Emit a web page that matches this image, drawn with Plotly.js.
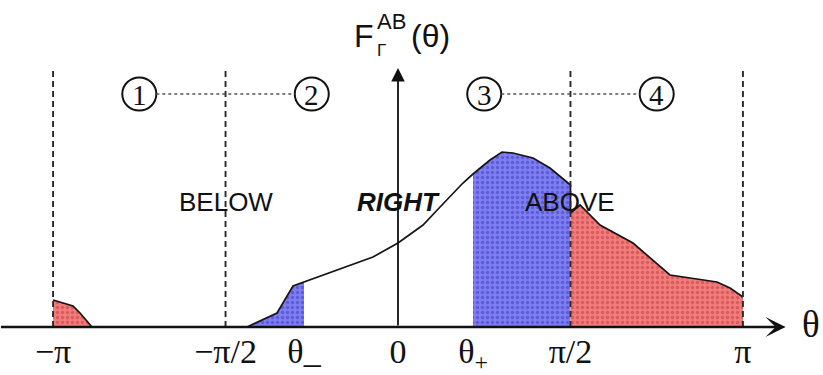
<!DOCTYPE html>
<html>
<head>
<meta charset="utf-8">
<script src="https://cdn.plot.ly/plotly-3.0.1.min.js"></script>
<style>
html,body{margin:0;padding:0;background:#fff;}
#chart{width:823px;height:375px;}
</style>
</head>
<body>
<div id="chart"></div>
<script>
// ---- data (F in arbitrary units) ----
const PI = Math.PI;
const thetaMinus = -0.856;
const thetaPlus = 0.683;

const redLeftTheta = [-3.1416, -3.078, -2.960, -2.896, -2.787];
const redLeftF     = [0.27, 0.25, 0.21, 0.14, 0.0];

const flatTheta = [-2.787, -1.375];
const flatF     = [0.0, 0.0];

const blueLeftTheta = [-1.375, -1.239, -1.102, -0.956, -0.856];
const blueLeftF     = [0.0, 0.07, 0.14, 0.41, 0.45];

const midTheta = [-0.856, -0.228, 0.0, 0.228, 0.383, 0.592, 0.683];
const midF     = [0.45, 0.70, 0.84, 1.02, 1.20, 1.44, 1.53];

const blueRightTheta = [0.683, 0.838, 0.947, 1.047, 1.230, 1.384, 1.5708];
const blueRightF     = [1.53, 1.67, 1.75, 1.74, 1.69, 1.59, 1.42];

const redRightTheta = [1.5708, 1.658, 1.840, 2.140, 2.477, 2.905, 3.024, 3.1416];
const redRightF     = [1.14, 1.22, 1.02, 0.84, 0.52, 0.45, 0.39, 0.30];

const tickVals = [-PI, -PI/2, thetaMinus, 0, thetaPlus, PI/2, PI];
const tickText = ['\u2212\u03c0', '\u2212\u03c0/2', '\u03b8_', '0', '\u03b8<sub>+</sub>', '\u03c0/2', '\u03c0'];

const regionNumbers = ['1', '2', '3', '4'];
const regionCenters = [-3*PI/4, -PI/4, PI/4, 3*PI/4];
const zoneLabels = ['BELOW', 'RIGHT', 'ABOVE'];
const zoneCenters = [-PI/2, 0, PI/2];
const boundaryLines = [-PI, -PI/2, PI/2, PI];

// ---- traces ----
const BLUE = '#7e7ef2', BLUE_DOT = '#5c5cd6';
const RED = '#f27c7c', RED_DOT = '#d85c5c';

function fillTrace(x, y, bg, fg) {
  return {
    x: x, y: y, type: 'scatter', mode: 'lines',
    line: {width: 0, color: bg},
    fill: 'tozeroy', fillcolor: bg,
    fillpattern: {shape: '.', bgcolor: bg, fgcolor: fg, size: 5, solidity: 0.35},
    hoverinfo: 'skip', showlegend: false
  };
}

const curveTheta = [].concat(redLeftTheta, flatTheta.slice(1), blueLeftTheta.slice(1), midTheta.slice(1), blueRightTheta.slice(1), redRightTheta);
const curveF     = [].concat(redLeftF, flatF.slice(1), blueLeftF.slice(1), midF.slice(1), blueRightF.slice(1), redRightF);

const traces = [
  fillTrace(redLeftTheta, redLeftF, RED, RED_DOT),
  fillTrace(blueLeftTheta, blueLeftF, BLUE, BLUE_DOT),
  fillTrace(blueRightTheta, blueRightF, BLUE, BLUE_DOT),
  fillTrace(redRightTheta, redRightF, RED, RED_DOT),
  {x: curveTheta, y: curveF, type: 'scatter', mode: 'lines',
   line: {color: '#151515', width: 1.7}, hoverinfo: 'skip', showlegend: false}
];

// ---- shapes ----
const shapes = [];
boundaryLines.forEach(v => shapes.push({
  type: 'line', xref: 'x', yref: 'y', x0: v, x1: v, y0: 0, y1: 2.6,
  line: {color: '#2a2a2a', width: 1.9, dash: '6px,4px'}, layer: 'above'
}));
const cw = 0.31, ch = 0.33, cy = 2.33;
regionCenters.forEach(c => shapes.push({
  type: 'circle', xref: 'x', yref: 'y', x0: c - cw/2, x1: c + cw/2, y0: cy - ch/2, y1: cy + ch/2,
  line: {color: '#111', width: 2}
}));
[[0, 1], [2, 3]].forEach(p => shapes.push({
  type: 'line', xref: 'x', yref: 'y',
  x0: regionCenters[p[0]] + cw/2, x1: regionCenters[p[1]] - cw/2, y0: cy, y1: cy,
  line: {color: '#555', width: 1.5, dash: 'dot'}
}));

// ---- annotations ----
const ann = [];
regionNumbers.forEach((t, i) => ann.push({
  x: regionCenters[i], y: cy, xref: 'x', yref: 'y', text: t, showarrow: false,
  font: {family: 'Liberation Serif', size: 29, color: '#111'}, yshift: -1
}));
zoneLabels.forEach((t, i) => ann.push({
  x: zoneCenters[i], y: 1.25, xref: 'x', yref: 'y',
  text: i === 1 ? '<b><i>' + t + '</i></b>' : t, showarrow: false,
  font: {family: 'Liberation Sans', size: 26, color: '#111'}
}));
// axes arrows
ann.push({x: 3.53, y: 0, ax: -3.63, ay: 0, xref: 'x', yref: 'y', axref: 'x', ayref: 'y',
  text: '', showarrow: true, arrowhead: 3, arrowsize: 1.4, arrowwidth: 2.4, arrowcolor: '#111'});
ann.push({x: 0, y: 2.59, ax: 0, ay: 0, xref: 'x', yref: 'y', axref: 'x', ayref: 'y',
  text: '', showarrow: true, arrowhead: 2, arrowsize: 1.5, arrowwidth: 1.8, arrowcolor: '#111'});
// axis names
ann.push({x: 3.76, y: 0.03, xref: 'x', yref: 'y', text: '\u03b8', showarrow: false,
  font: {family: 'Liberation Serif', size: 37, color: '#111'}});
// y-axis name F_Γ^AB(θ), stacked sub/superscript
const titleFont = {family: 'Liberation Sans', size: 32, color: '#111'};
ann.push({x: -0.31, y: 2.91, xref: 'x', yref: 'y', text: 'F', showarrow: false, font: titleFont});
ann.push({x: -0.055, y: 3.06, xref: 'x', yref: 'y', text: 'AB', showarrow: false,
  font: {family: 'Liberation Sans', size: 22, color: '#111'}});
ann.push({x: -0.15, y: 2.77, xref: 'x', yref: 'y', text: '\u0393', showarrow: false,
  font: {family: 'Liberation Sans', size: 17, color: '#111'}});
ann.push({x: 0.30, y: 2.91, xref: 'x', yref: 'y', text: '(\u03b8)', showarrow: false, font: titleFont});

const layout = {
  width: 823, height: 375,
  margin: {l: 0, r: 0, t: 0, b: 48, pad: 0},
  paper_bgcolor: '#fff', plot_bgcolor: '#fff',
  xaxis: {range: [-3.6248, 3.8707], showgrid: false, zeroline: false, showline: false,
          ticks: '', tickvals: tickVals, ticktext: tickText, ticklabelstandoff: 1,
          tickfont: {family: 'Liberation Serif', size: 34, color: '#111'}, fixedrange: true},
  yaxis: {range: [0, 3.27], visible: false, fixedrange: true},
  shapes: shapes, annotations: ann, showlegend: false
};

Plotly.newPlot('chart', traces, layout, {staticPlot: true, displayModeBar: false});
</script>
</body>
</html>
